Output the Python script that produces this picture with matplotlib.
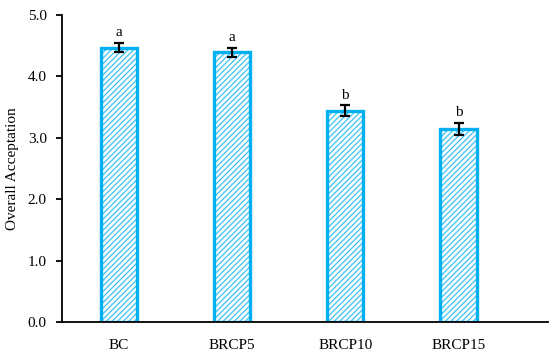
import numpy as np
import matplotlib.pyplot as plt

plt.rcParams['font.family'] = ['Liberation Serif', 'DejaVu Serif']
plt.rcParams['hatch.linewidth'] = 0.9

samples = ["BC", "BRCP5", "BRCP10", "BRCP15"]
acceptance = [4.47, 4.39, 3.44, 3.14]
errors = [0.08, 0.08, 0.09, 0.10]
letters = ["a", "a", "b", "b"]

blue = "#00B0F0"
light_blue = "#3CC2F3"

fig = plt.figure(figsize=(5.5, 3.61), dpi=100)
ax = fig.add_axes([62 / 550, 39 / 361, 486 / 550, 307 / 361])

x = np.arange(len(samples))
# hatched fill first, then the solid border on top
ax.bar(x, acceptance, width=0.32, color="white", edgecolor=light_blue,
       linewidth=0, hatch="//////", zorder=2)
ax.bar(x, acceptance, width=0.32, fill=False, edgecolor=blue,
       linewidth=2.4, zorder=2)
ax.errorbar(x, acceptance, yerr=errors, fmt="none", ecolor="black",
            elinewidth=1.6, capsize=3.5, capthick=1.6, zorder=3)
for xi, v, e, lab in zip(x, acceptance, errors, letters):
    ax.text(xi, v + e + 0.06, lab, ha="center", va="bottom", fontsize=11)

ax.set_xlim(-0.5, 3.79)
ax.set_ylim(0, 5)
ax.set_yticks(np.arange(0, 5.01, 1.0))
ax.set_yticklabels([f"{t:.1f}" for t in np.arange(0, 5.01, 1.0)])
ax.set_xticks(x)
ax.set_xticklabels(samples)
ax.tick_params(axis="x", length=0, pad=12, labelsize=11)
ax.tick_params(axis="y", direction="out", length=4, width=1.3, pad=7, labelsize=11)
ax.set_ylabel("Overall Acceptation", fontsize=11, labelpad=6)
for s in ["top", "right"]:
    ax.spines[s].set_visible(False)
for s in ["left", "bottom"]:
    ax.spines[s].set_linewidth(1.3)

fig.savefig("out.png", dpi=100)
